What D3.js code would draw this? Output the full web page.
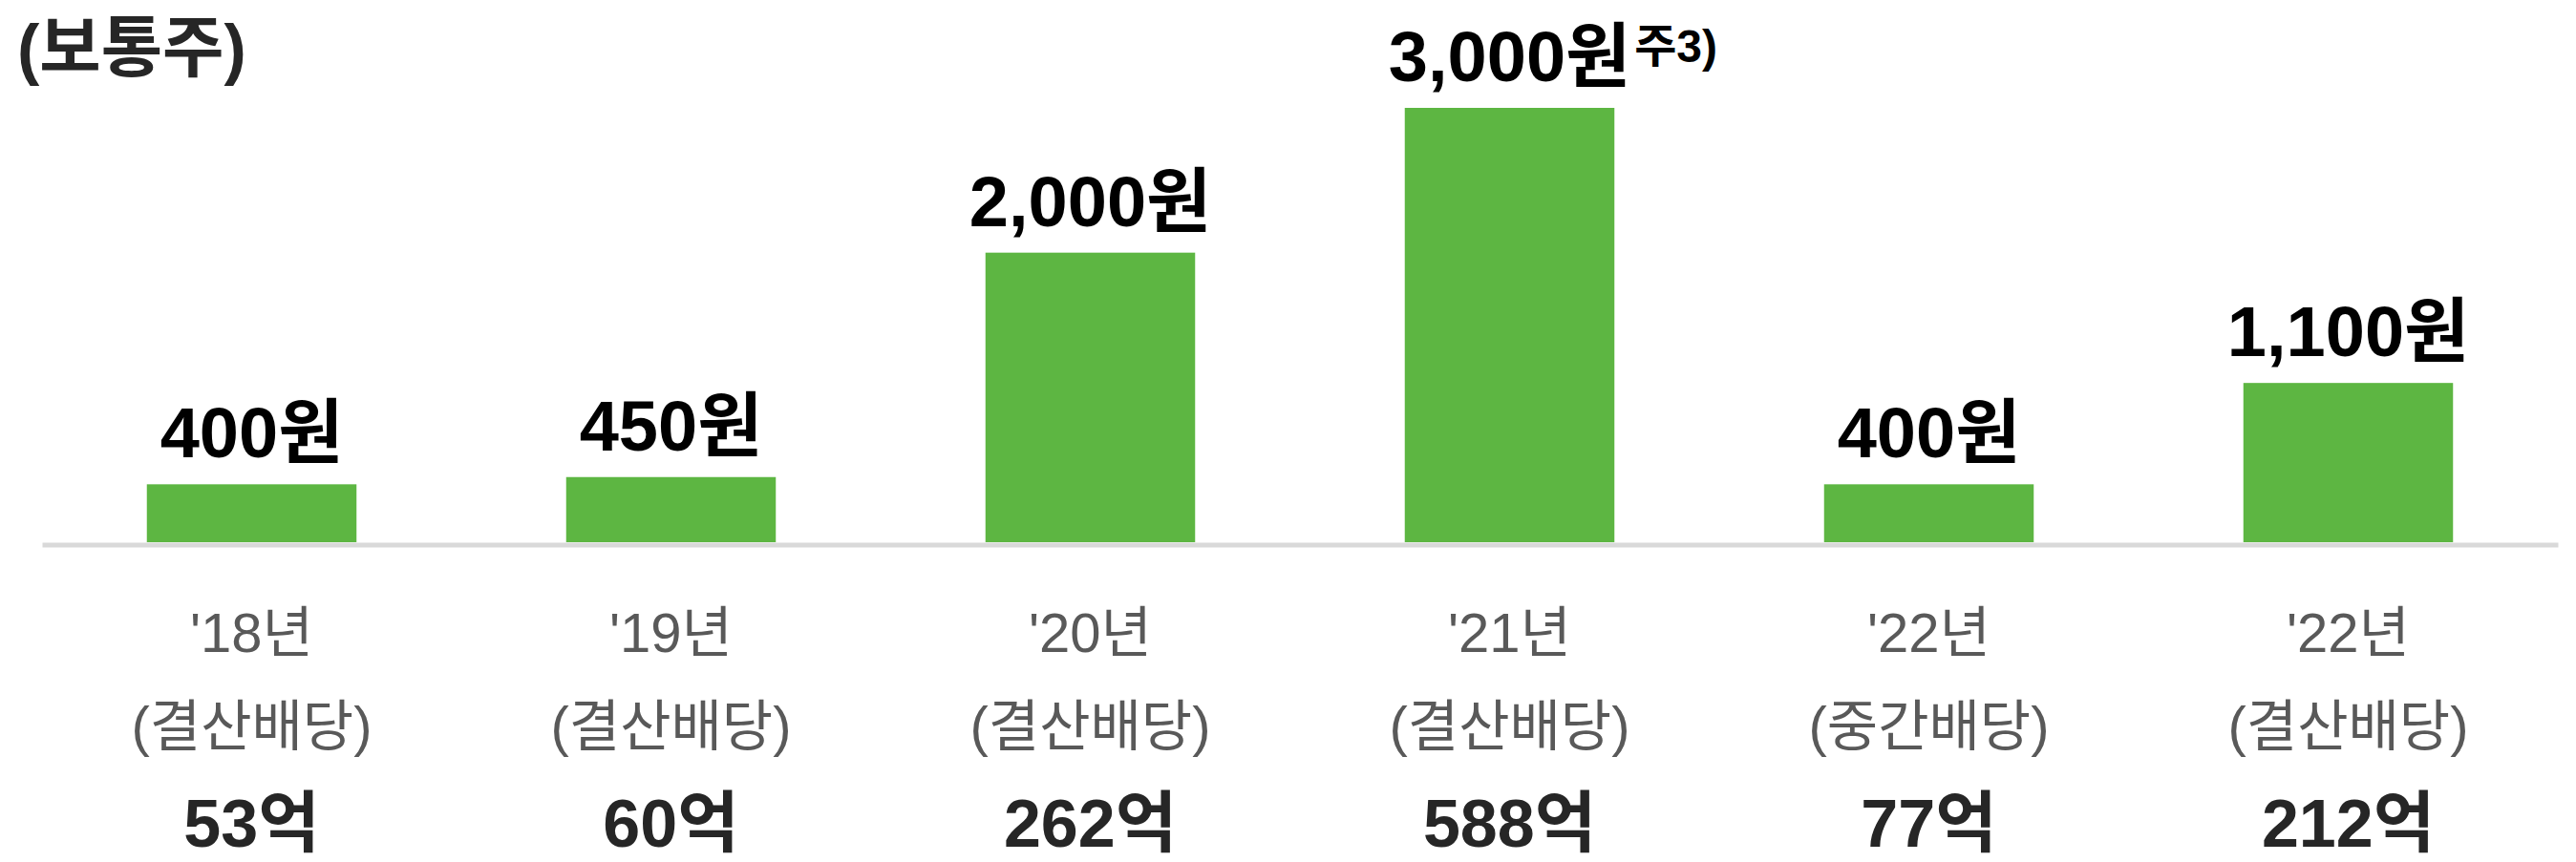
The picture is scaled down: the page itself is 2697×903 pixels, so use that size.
<!DOCTYPE html>
<html>
<head>
<meta charset="utf-8">
<script src="https://cdn.jsdelivr.net/npm/d3@7"></script>
<style>
  html, body { margin: 0; padding: 0; background: #ffffff; }
  svg { display: block; }
</style>
</head>
<body>
<div id="chart"></div>
<script>
// ---- data ----
const title = "(보통주)";
const years = ["'18년", "'19년", "'20년", "'21년", "'22년", "'22년"];
const dividendTypes = ["(결산배당)", "(결산배당)", "(결산배당)", "(결산배당)", "(중간배당)", "(결산배당)"];
const dps = [400, 450, 2000, 3000, 400, 1100];          // 주당 배당금 (원)
const totals = [53, 60, 262, 588, 77, 212];             // 배당 총액 (억)
const notes = ["", "", "", "주3)", "", ""];
const valueUnit = "원";
const totalUnit = "억";

// ---- layout ----
const W = 2697, H = 903;
const svg = d3.select("#chart").append("svg")
  .attr("width", W).attr("height", H);

const latin = "'Liberation Sans', Arial, 'Noto Sans CJK KR', sans-serif";

const x = d3.scaleBand()
  .domain(d3.range(dps.length))
  .range([44, 2678])
  .paddingInner(0.5)
  .paddingOuter(0.25);

const y = d3.scaleLinear()
  .domain([0, 3000])
  .range([568, 113]);

// bars
svg.append("g").selectAll("rect")
  .data(dps)
  .join("rect")
  .attr("x", (d, i) => x(i))
  .attr("y", d => y(d))
  .attr("width", x.bandwidth())
  .attr("height", d => y(0) - y(d))
  .attr("fill", "#5db642");

// baseline axis
const axis = svg.append("g")
  .attr("transform", `translate(0,${y(0) + 2.5})`)
  .call(d3.axisBottom(x).tickSize(0).tickSizeOuter(0).tickFormat(""));
axis.select(".domain").attr("stroke", "#d9d9d9").attr("stroke-width", 5);
axis.selectAll(".tick").remove();

// value labels
const fmt = d3.format(",");
const labelGap = 28;
const vlab = svg.append("g").selectAll("text")
  .data(dps)
  .join("text")
  .attr("x", (d, i) => x(i) + x.bandwidth() / 2)
  .attr("y", d => y(d) - labelGap)
  .attr("text-anchor", "middle")
  .attr("font-family", latin)
  .attr("font-weight", "bold")
  .attr("font-size", 74)
  .attr("fill", "#000000")
  .text(d => fmt(d) + valueUnit);

// superscript notes
vlab.each(function(d, i) {
  if (!notes[i]) return;
  const w = this.getComputedTextLength();
  svg.append("text")
    .attr("x", x(i) + x.bandwidth() / 2 + w / 2 + 4)
    .attr("y", y(d) - labelGap - 20)
    .attr("font-family", latin)
    .attr("font-weight", "bold")
    .attr("font-size", 48)
    .attr("fill", "#000000")
    .text(notes[i]);
});

// category labels
const cx = i => x(i) + x.bandwidth() / 2;
svg.append("g").selectAll("text")
  .data(years)
  .join("text")
  .attr("x", (d, i) => cx(i))
  .attr("y", 683)
  .attr("text-anchor", "middle")
  .attr("font-family", latin)
  .attr("font-size", 58)
  .attr("fill", "#595959")
  .text(d => d);

svg.append("g").selectAll("text")
  .data(dividendTypes)
  .join("text")
  .attr("x", (d, i) => cx(i))
  .attr("y", 781)
  .attr("text-anchor", "middle")
  .attr("font-family", latin)
  .attr("font-size", 58)
  .attr("fill", "#595959")
  .text(d => d);

svg.append("g").selectAll("text")
  .data(totals)
  .join("text")
  .attr("x", (d, i) => cx(i))
  .attr("y", 887)
  .attr("text-anchor", "middle")
  .attr("font-family", latin)
  .attr("font-weight", "bold")
  .attr("font-size", 70)
  .attr("fill", "#262626")
  .text(d => d + totalUnit);

// title
svg.append("text")
  .attr("x", 18)
  .attr("y", 75)
  .attr("font-family", latin)
  .attr("font-weight", "bold")
  .attr("font-size", 70)
  .attr("fill", "#262626")
  .text(title);
</script>
</body>
</html>
